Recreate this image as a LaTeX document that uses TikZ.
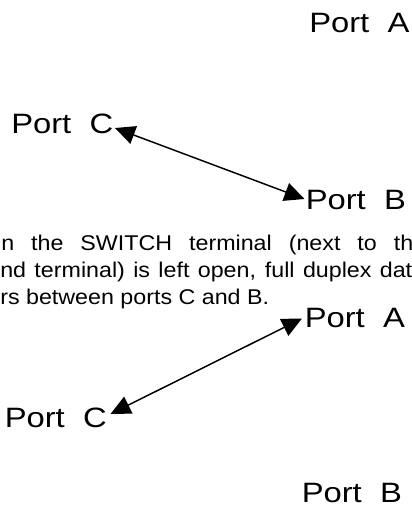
\documentclass[tikz,border=0pt]{standalone}
\usepackage{fontspec}
\setmainfont{Liberation Sans}
\usetikzlibrary{arrows.meta}

% labels and paragraph are set in a slightly widened sans
\newcommand{\wide}[1]{\scalebox{1.17}[1]{#1}}
\newcommand{\widebody}[1]{\scalebox{1.09}[1]{#1}}

\tikzset{
  portlabel/.style={anchor=base west, inner sep=0pt, font=\fontsize{21pt}{25pt}\selectfont},
  bodyline/.style={anchor=base west, inner sep=0pt, font=\fontsize{16pt}{19pt}\selectfont},
  duplex/.style={line width=1.1pt,
    {Triangle[length=15pt,width=14pt]}-{Triangle[length=15pt,width=14pt]}}
}

\begin{document}
\begin{tikzpicture}[x=0.75pt, y=-0.75pt]
  \useasboundingbox (0,0) rectangle (411,507);
  \clip (0,0) rectangle (411,507);

  % upper configuration: C <-> B
  \node[portlabel] (pa1) at (309,32.5)  {\wide{Port\ \ A}};
  \node[portlabel] (pc1) at (11,133)    {\wide{Port\ \ C}};
  \node[portlabel] (pb1) at (305.5,209) {\wide{Port\ \ B}};
  \draw[duplex] ([shift={(1.5,-5)}]pc1.base east) -- ([shift={(-1,-10)}]pb1.base west);

  % explanatory paragraph (justified lines)
  \node[bodyline] (t1) at (1,250) {\widebody{\makebox[283.5pt][s]{n the SWITCH terminal (next to th}}};
  \node[bodyline] (t2) at (0,277) {\widebody{\makebox[283.5pt][s]{nd terminal) is left open, full duplex dat}}};
  \node[bodyline] (t3) at (0,304) {\widebody{rs between ports C and B.}};

  % lower configuration: C <-> A
  \node[portlabel] (pa2) at (304.5,327) {\wide{Port\ \ A}};
  \node[portlabel] (pc2) at (4.5,427)   {\wide{Port\ \ C}};
  \node[portlabel] (pb2) at (301.5,502) {\wide{Port\ \ B}};
  \draw[duplex] ([shift={(3.5,-13)}]pc2.base east) -- ([shift={(-2.5,-8.5)}]pa2.base west);
\end{tikzpicture}
\end{document}
